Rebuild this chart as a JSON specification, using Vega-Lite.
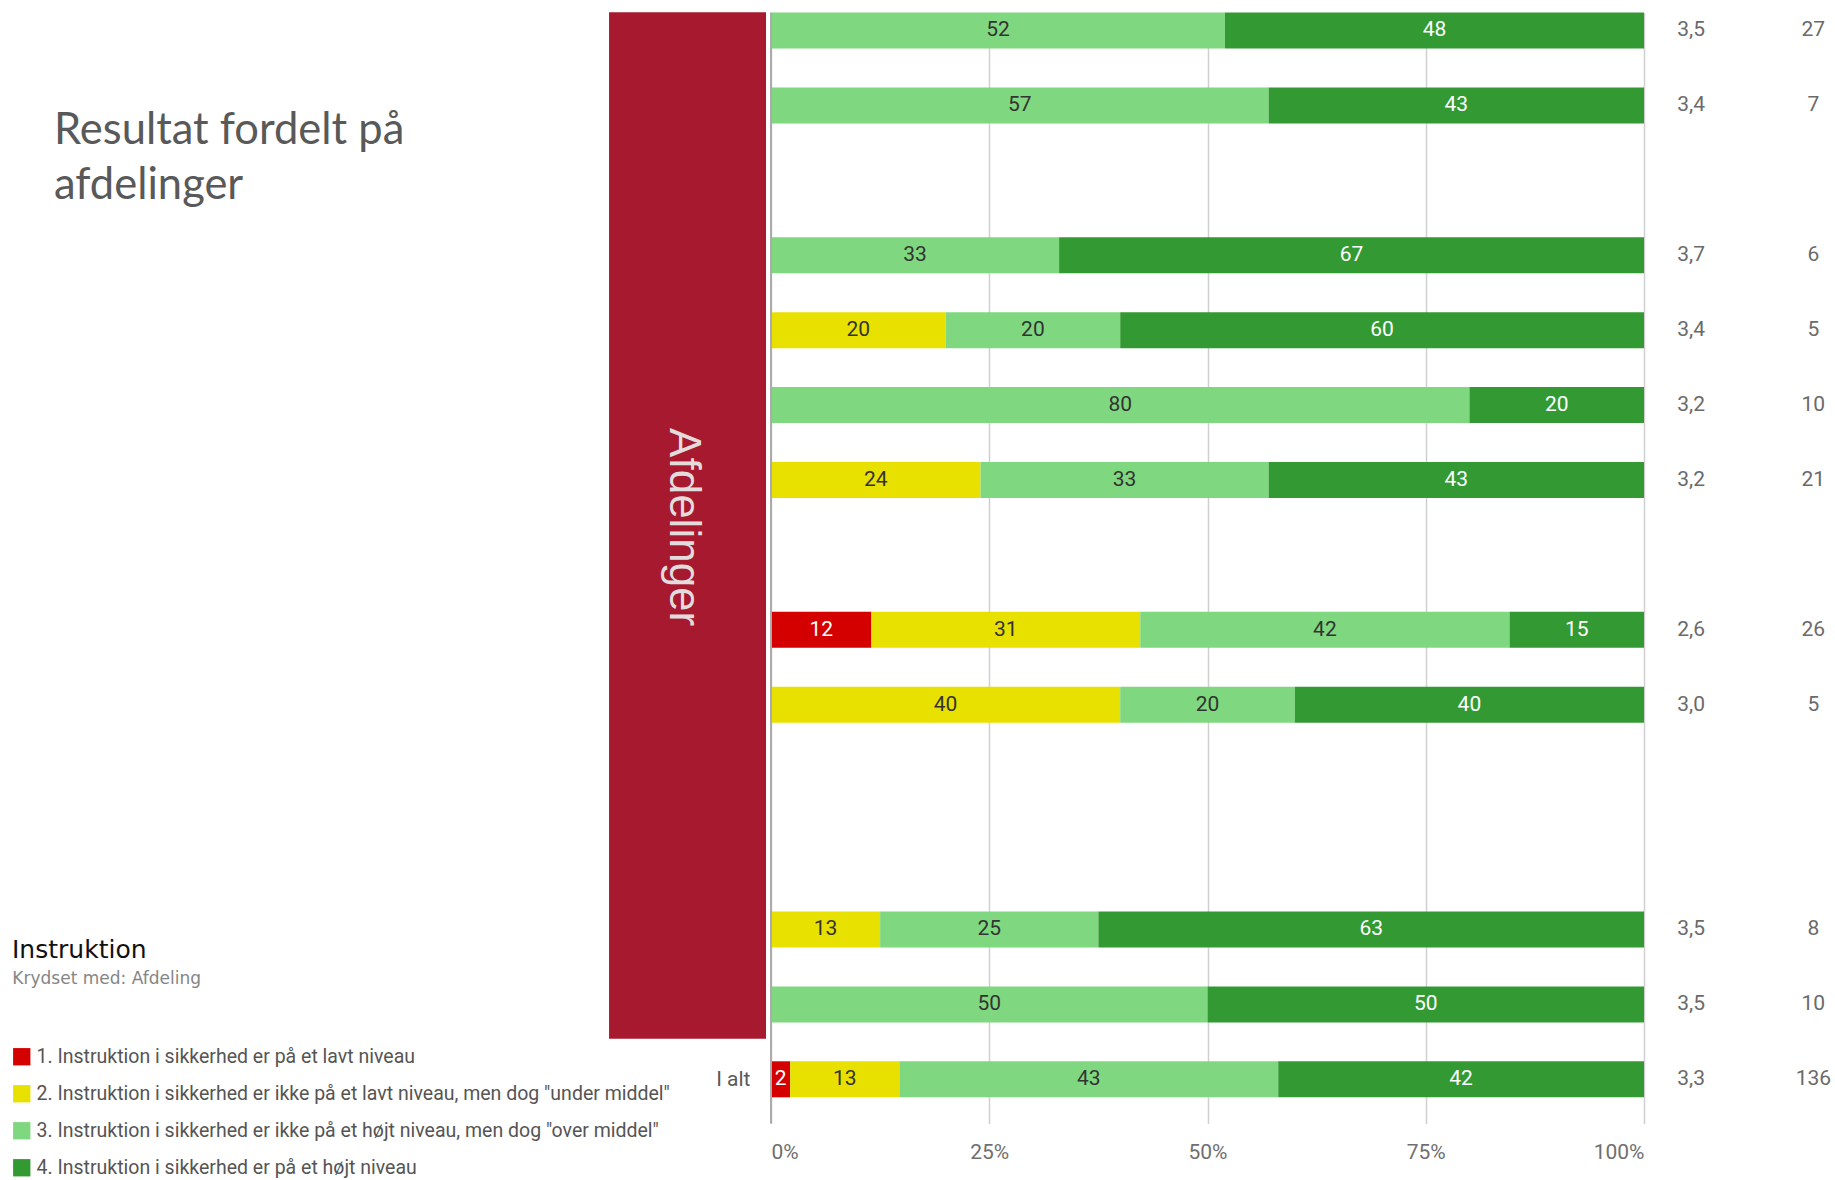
{
  "$schema": "https://vega.github.io/schema/vega-lite/v6.json",
  "autosize": "none",
  "width": 873,
  "height": 1111,
  "padding": {"left": 771, "top": 12.5, "right": 191, "bottom": 56.5},
  "background": "white",
  "title": {
    "text": ["Resultat fordelt på", "afdelinger"],
    "anchor": "start",
    "frame": "group",
    "font": "Lato",
    "fontSize": 43.5,
    "fontWeight": "normal",
    "color": "#595959",
    "lineHeight": 55,
    "baseline": "top",
    "offset": 0,
    "dx": -717,
    "dy": 196.5
  },
  "datasets": {
    "bars": [
      {"row": 0, "cat": 3, "pct": 52, "lab": "52"},
      {"row": 0, "cat": 4, "pct": 48, "lab": "48"},
      {"row": 1, "cat": 3, "pct": 57, "lab": "57"},
      {"row": 1, "cat": 4, "pct": 43, "lab": "43"},
      {"row": 3, "cat": 3, "pct": 33, "lab": "33"},
      {"row": 3, "cat": 4, "pct": 67, "lab": "67"},
      {"row": 4, "cat": 2, "pct": 20, "lab": "20"},
      {"row": 4, "cat": 3, "pct": 20, "lab": "20"},
      {"row": 4, "cat": 4, "pct": 60, "lab": "60"},
      {"row": 5, "cat": 3, "pct": 80, "lab": "80"},
      {"row": 5, "cat": 4, "pct": 20, "lab": "20"},
      {"row": 6, "cat": 2, "pct": 24, "lab": "24"},
      {"row": 6, "cat": 3, "pct": 33, "lab": "33"},
      {"row": 6, "cat": 4, "pct": 43, "lab": "43"},
      {"row": 8, "cat": 1, "pct": 11.5, "lab": "12"},
      {"row": 8, "cat": 2, "pct": 30.8, "lab": "31"},
      {"row": 8, "cat": 3, "pct": 42.3, "lab": "42"},
      {"row": 8, "cat": 4, "pct": 15.4, "lab": "15"},
      {"row": 9, "cat": 2, "pct": 40, "lab": "40"},
      {"row": 9, "cat": 3, "pct": 20, "lab": "20"},
      {"row": 9, "cat": 4, "pct": 40, "lab": "40"},
      {"row": 12, "cat": 2, "pct": 12.5, "lab": "13"},
      {"row": 12, "cat": 3, "pct": 25, "lab": "25"},
      {"row": 12, "cat": 4, "pct": 62.5, "lab": "63"},
      {"row": 13, "cat": 3, "pct": 50, "lab": "50"},
      {"row": 13, "cat": 4, "pct": 50, "lab": "50"},
      {"row": 14, "cat": 1, "pct": 2.2, "lab": "2"},
      {"row": 14, "cat": 2, "pct": 12.5, "lab": "13"},
      {"row": 14, "cat": 3, "pct": 43.4, "lab": "43"},
      {"row": 14, "cat": 4, "pct": 41.9, "lab": "42"}
    ],
    "stats": [
      {"row": 0, "mean": "3,5", "n": 27},
      {"row": 1, "mean": "3,4", "n": 7},
      {"row": 3, "mean": "3,7", "n": 6},
      {"row": 4, "mean": "3,4", "n": 5},
      {"row": 5, "mean": "3,2", "n": 10},
      {"row": 6, "mean": "3,2", "n": 21},
      {"row": 8, "mean": "2,6", "n": 26},
      {"row": 9, "mean": "3,0", "n": 5},
      {"row": 12, "mean": "3,5", "n": 8},
      {"row": 13, "mean": "3,5", "n": 10},
      {"row": 14, "mean": "3,3", "n": 136}
    ]
  },
  "config": {
    "view": {"stroke": null}
  },
  "layer": [
    {
      "data": {"name": "bars"},
      "mark": {"type": "bar", "orient": "horizontal", "size": 36},
      "encoding": {
        "y": {"field": "row", "type": "quantitative", "title": null,
              "scale": {"domain": [-0.24, 14.59], "reverse": true, "nice": false, "zero": false, "padding": 0},
              "axis": {"values": [14], "labelExpr": "'I alt'", "domain": false, "ticks": false, "grid": false,
                       "labelFont": "Roboto", "labelFontSize": 21, "labelColor": "#5a5a5a", "labelPadding": 21, "title": null}},
        "x": {"field": "pct", "type": "quantitative", "stack": "zero", "title": null,
              "scale": {"domain": [0, 100], "nice": false},
              "axis": {"values": [0, 25, 50, 75, 100], "labelExpr": "datum.value + '%'", "domain": false, "ticks": false,
                       "grid": true, "gridColor": "#d0d0d0", "gridWidth": 1.5, "labelFont": "Roboto", "labelFontSize": 21,
                       "labelColor": "#6f6f6f", "labelPadding": 18, "title": null}},
        "order": {"field": "cat", "type": "quantitative"},
        "color": {
          "field": "cat", "type": "nominal",
          "scale": {"domain": [1, 2, 3, 4], "range": ["#d40000", "#e8e100", "#7fd87f", "#339a33"]},
          "legend": {
            "orient": "none",
            "legendX": -759,
            "legendY": 925.5,
            "title": "Instruktion",
            "titleFont": "DejaVu Sans",
            "titleFontSize": 25,
            "titleFontWeight": "normal",
            "titleColor": "#111111",
            "titleBaseline": "top",
            "titlePadding": 84,
            "labelFont": "Roboto",
            "labelFontSize": 19.5,
            "labelColor": "#555555",
            "labelLimit": 900,
            "labelOffset": 5,
            "symbolType": "square",
            "symbolSize": 300,
            "symbolStrokeWidth": 0,
            "rowPadding": 16,
            "padding": 0,
            "labelExpr": "datum.value == 1 ? '1. Instruktion i sikkerhed er på et lavt niveau' : datum.value == 2 ? '2. Instruktion i sikkerhed er ikke på et lavt niveau, men dog \"under middel\"' : datum.value == 3 ? '3. Instruktion i sikkerhed er ikke på et højt niveau, men dog \"over middel\"' : '4. Instruktion i sikkerhed er på et højt niveau'"
          }
        }
      }
    },
    {
      "data": {"values": [{"v": 0}]},
      "mark": {"type": "rule", "color": "#ababab", "strokeWidth": 2},
      "encoding": {
        "x": {"field": "v", "type": "quantitative", "scale": {"domain": [0, 100], "nice": false}, "title": null}
      }
    },
    {
      "data": {"name": "bars"},
      "mark": {"type": "text", "font": "Roboto", "fontSize": 21, "baseline": "middle", "align": "center"},
      "encoding": {
        "y": {"field": "row", "type": "quantitative", "title": null,
              "scale": {"domain": [-0.24, 14.59], "reverse": true, "nice": false, "zero": false, "padding": 0}},
        "x": {"field": "pct", "type": "quantitative", "stack": "zero", "bandPosition": 0.5, "title": null,
              "scale": {"domain": [0, 100], "nice": false}},
        "detail": {"field": "cat", "type": "nominal"},
        "order": {"field": "cat", "type": "quantitative"},
        "text": {"field": "lab", "type": "nominal"},
        "color": {"condition": {"test": "datum.cat == 1 || datum.cat == 4", "value": "#ffffff"}, "value": "#333333"}
      }
    },
    {
      "data": {"name": "stats"},
      "mark": {"type": "text", "font": "Roboto", "fontSize": 21, "color": "#6a6a6a", "align": "center", "baseline": "middle"},
      "encoding": {
        "y": {"field": "row", "type": "quantitative", "title": null,
              "scale": {"domain": [-0.24, 14.59], "reverse": true, "nice": false, "zero": false, "padding": 0}},
        "x": {"datum": 105.4, "scale": {"domain": [0, 100], "nice": false}},
        "text": {"field": "mean", "type": "nominal"}
      }
    },
    {
      "data": {"name": "stats"},
      "mark": {"type": "text", "font": "Roboto", "fontSize": 21, "color": "#6a6a6a", "align": "center", "baseline": "middle"},
      "encoding": {
        "y": {"field": "row", "type": "quantitative", "title": null,
              "scale": {"domain": [-0.24, 14.59], "reverse": true, "nice": false, "zero": false, "padding": 0}},
        "x": {"datum": 119.4, "scale": {"domain": [0, 100], "nice": false}},
        "text": {"field": "n", "type": "quantitative"}
      }
    },
    {
      "data": {"values": [{"label": "Afdelinger"}]},
      "layer": [
        {
          "mark": {"type": "rect", "color": "#a6192e"},
          "encoding": {
            "x": {"datum": -18.55, "scale": {"domain": [0, 100], "nice": false}},
            "x2": {"datum": -0.57},
            "y": {"datum": -0.245, "scale": {"domain": [-0.24, 14.59], "reverse": true, "nice": false, "zero": false, "padding": 0}},
            "y2": {"datum": 13.46}
          }
        },
        {
          "mark": {"type": "text", "font": "Liberation Sans", "fontSize": 44, "color": "#e2dcdc", "angle": 90, "align": "center", "baseline": "middle"},
          "encoding": {
            "x": {"datum": -10.1, "scale": {"domain": [0, 100], "nice": false}},
            "y": {"datum": 6.63, "scale": {"domain": [-0.24, 14.59], "reverse": true, "nice": false, "zero": false, "padding": 0}},
            "text": {"field": "label", "type": "nominal"}
          }
        }
      ]
    },
    {
      "data": {"values": [{"label": "Krydset med: Afdeling"}]},
      "mark": {"type": "text", "font": "DejaVu Sans", "fontSize": 17, "color": "#858585", "align": "left", "baseline": "middle"},
      "encoding": {
        "x": {"datum": -86.9, "scale": {"domain": [0, 100], "nice": false}},
        "y": {"datum": 12.66, "scale": {"domain": [-0.24, 14.59], "reverse": true, "nice": false, "zero": false, "padding": 0}},
        "text": {"field": "label", "type": "nominal"}
      }
    }
  ]
}
